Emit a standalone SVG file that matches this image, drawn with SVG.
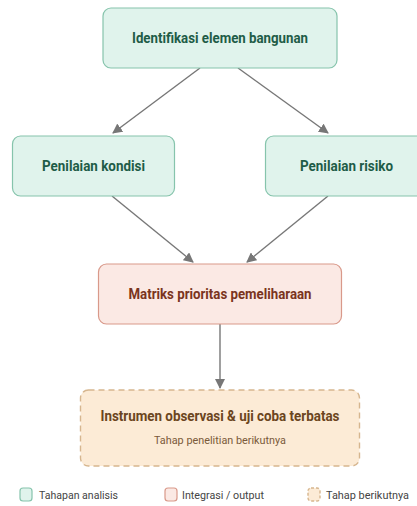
<svg xmlns="http://www.w3.org/2000/svg" width="417" height="506" viewBox="0 0 417 506">
<defs>
<marker id="arr" viewBox="0 0 10 10" refX="9" refY="5" markerWidth="10" markerHeight="10" markerUnits="userSpaceOnUse" orient="auto">
<path d="M0,0 L10,5 L0,10 z" fill="#777"/>
</marker>
<style>
.g{fill:#e0f3ec;stroke:#86c4ac;stroke-width:1.2}
.o{fill:#fbe9e4;stroke:#d9998a;stroke-width:1.2}
.n{fill:#fcebd6;stroke:#d6b68f;stroke-width:1.4;stroke-dasharray:6 4}
.t{font-family:Roboto,"Liberation Sans",sans-serif;font-weight:bold;font-size:14px;text-anchor:middle}
.tg{fill:#1e5c47}
.to{fill:#7a3420}
.tn{fill:#6b4520}
.s{font-family:Roboto,"Liberation Sans",sans-serif;font-size:11px;text-anchor:middle;fill:#7a5a3a}
.l{font-family:Roboto,"Liberation Sans",sans-serif;font-size:11px;fill:#444}
.c{stroke:#777;stroke-width:1.4;fill:none;marker-end:url(#arr)}
</style>
</defs>
<rect width="417" height="506" fill="#fff"/>
<g id="connectors">
<line class="c" x1="200" y1="68" x2="113" y2="133"/>
<line class="c" x1="238" y1="68" x2="328" y2="133"/>
<line class="c" x1="112" y1="196" x2="193" y2="262"/>
<line class="c" x1="328" y1="196" x2="247" y2="262"/>
<line class="c" x1="220" y1="324" x2="220" y2="388"/>
</g>
<g id="node-identifikasi">
<rect class="g" x="103" y="8" width="234" height="60" rx="8"/>
<text class="t tg" x="220" y="43" textLength="176" lengthAdjust="spacingAndGlyphs">Identifikasi elemen bangunan</text>
</g>
<g id="node-kondisi">
<rect class="g" x="12.5" y="136" width="162" height="60" rx="8"/>
<text class="t tg" x="93.5" y="171" textLength="103" lengthAdjust="spacingAndGlyphs">Penilaian kondisi</text>
</g>
<g id="node-risiko">
<rect class="g" x="265.5" y="136" width="162" height="60" rx="8"/>
<text class="t tg" x="346.5" y="171" textLength="93" lengthAdjust="spacingAndGlyphs">Penilaian risiko</text>
</g>
<g id="node-matriks">
<rect class="o" x="98.5" y="264" width="243" height="60" rx="8"/>
<text class="t to" x="220" y="299" textLength="183" lengthAdjust="spacingAndGlyphs">Matriks prioritas pemeliharaan</text>
</g>
<g id="node-instrumen">
<rect class="n" x="80.5" y="390" width="279" height="76" rx="8"/>
<text class="t tn" x="220" y="421" textLength="239" lengthAdjust="spacingAndGlyphs">Instrumen observasi &amp; uji coba terbatas</text>
<text class="s" x="220" y="444" textLength="132" lengthAdjust="spacingAndGlyphs">Tahap penelitian berikutnya</text>
</g>
<g id="legend">
<rect class="g" x="20" y="488" width="12" height="13" rx="3"/>
<text class="l" x="39" y="499" textLength="79" lengthAdjust="spacingAndGlyphs">Tahapan analisis</text>
<rect class="o" x="165" y="488" width="12" height="13" rx="3"/>
<text class="l" x="182" y="499" textLength="82" lengthAdjust="spacingAndGlyphs">Integrasi / output</text>
<rect class="n" x="308" y="488" width="12" height="13" rx="3" style="stroke-dasharray:3 2"/>
<text class="l" x="326" y="499" textLength="83" lengthAdjust="spacingAndGlyphs">Tahap berikutnya</text>
</g>
</svg>
